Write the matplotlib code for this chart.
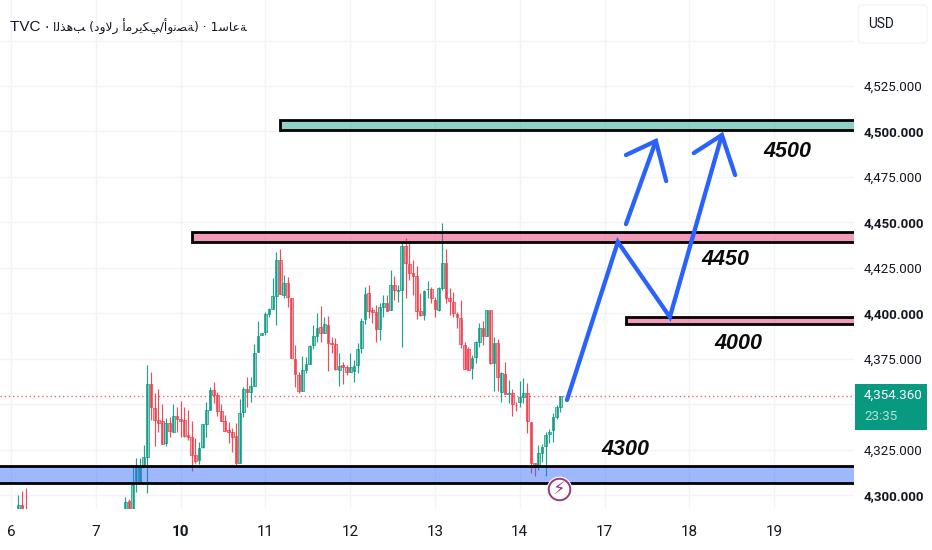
import numpy as np
import matplotlib
matplotlib.use("Agg")
import matplotlib.pyplot as plt
from matplotlib.colors import to_rgba
from matplotlib.patches import Rectangle, FancyBboxPatch
from matplotlib.transforms import ScaledTranslation

# hourly candles, 23 bars a session. index 5-30 sit below the visible range
candle_idx = [2, 3, 4] + list(range(31, 150))

opens = [4290, 4294.4, 4292.5,
    4290, 4296.9, 4290, 4306.5, 4307.4, 4316.5, 4321.1, 4360.9, 4347.7, 4341.3,
    4340.6, 4328.5, 4339.5, 4334.7, 4343.3, 4341.7, 4341.5, 4332.9, 4331.8, 4321.9,
    4319.3, 4326.6, 4339.1, 4346.8, 4357.8, 4354.9, 4346, 4340.7, 4335.6, 4334.5,
    4332.7, 4317.8, 4345.7, 4358.2, 4356.7, 4360.2, 4378.5, 4388, 4389.5, 4399.4,
    4402.3, 4409.5, 4429.3, 4410, 4416.5, 4408.6, 4374.8, 4366, 4357.2, 4368.8,
    4372.1, 4382.5, 4387.7, 4392.3, 4389, 4393.5, 4383.8, 4382.9, 4368.8, 4371.4,
    4370.3, 4367.9, 4368.4, 4371.5, 4380.7, 4396.7, 4411, 4401.8, 4400.9, 4391.2,
    4403.3, 4405.8, 4401.8, 4415.5, 4412.4, 4412.8, 4437.2, 4427.1, 4422, 4420.5,
    4401.1, 4399, 4413.2, 4413.3, 4407.3, 4401.8, 4414.1, 4427.5, 4408.2, 4406.4,
    4399.6, 4397.2, 4382.5, 4380.2, 4369.7, 4375.8, 4384.4, 4391.7, 4387.5, 4401.8,
    4372.8, 4383.5, 4356.9, 4366.6, 4355.6, 4356.3, 4349.7, 4351.4, 4354.1, 4356,
    4340.4, 4317.5, 4316.5, 4323.3, 4327.2, 4333.4, 4335.8, 4343.1, 4348.6]
highs = [4300, 4302.4, 4303.7,
    4298.8, 4297.7, 4316.5, 4320.2, 4320.2, 4327.5, 4371.5, 4367.5, 4356, 4358.2,
    4350.1, 4342.2, 4343.1, 4350.1, 4348.6, 4351.9, 4348.6, 4346.8, 4340.7, 4331.2,
    4329.4, 4339.1, 4351.4, 4359.3, 4362, 4356.9, 4350.1, 4344, 4340.4, 4337.1,
    4339.5, 4352.7, 4359.3, 4365.1, 4365.1, 4382.9, 4395.7, 4389, 4400.9, 4402.7,
    4419.2, 4433.9, 4435.2, 4421, 4420.1, 4408.6, 4382.5, 4367.9, 4376.5, 4376.1,
    4382.5, 4393.5, 4400, 4404, 4398.1, 4398.5, 4386.8, 4386.2, 4378, 4373.4,
    4371.5, 4378, 4374.3, 4383.5, 4397.2, 4414.3, 4415.5, 4403.3, 4404.5, 4405.5,
    4410, 4410, 4423.8, 4420.5, 4415.5, 4439.4, 4441.2, 4439, 4429.3, 4426,
    4411.3, 4412.8, 4417.9, 4414.3, 4408.8, 4414.3, 4449.5, 4435.2, 4413.7, 4411.9,
    4400.9, 4407.3, 4384.4, 4381.3, 4377, 4384.9, 4394.5, 4395.9, 4401.8, 4401.8,
    4386.8, 4385.7, 4367.9, 4373, 4363.3, 4358.2, 4351.4, 4362.9, 4364.2, 4361.5,
    4340.4, 4317.5, 4327.5, 4327.9, 4334.9, 4336.2, 4345, 4349.5, 4354.4]
lows = [4288, 4288, 4286,
    4288, 4288, 4288, 4301.9, 4307.4, 4316.5, 4301, 4341.3, 4327.2, 4334.9,
    4328.1, 4327, 4331.8, 4334.7, 4334.9, 4332.1, 4331.8, 4330.3, 4313.4, 4317.8,
    4317.1, 4325.7, 4331.8, 4346.8, 4350.5, 4343.5, 4340.7, 4335.2, 4328.8, 4323.9,
    4316.4, 4317.8, 4343.1, 4348.6, 4351.4, 4360.2, 4378.5, 4388, 4388, 4398.1,
    4402.3, 4393.5, 4410.6, 4408.2, 4403.3, 4375.2, 4359.6, 4356.3, 4357.2, 4367,
    4372.1, 4380.2, 4384.4, 4384.4, 4389, 4368.4, 4378.3, 4368.8, 4360.2, 4361.1,
    4366, 4367.9, 4362, 4367, 4378, 4394.1, 4397.2, 4394.5, 4384, 4385.3,
    4398.1, 4401.4, 4401.8, 4407.3, 4406.4, 4381.6, 4408.2, 4418.3, 4410, 4396.7,
    4398.5, 4396.3, 4408.2, 4405.5, 4397.8, 4401.2, 4412.8, 4405.8, 4399, 4398.1,
    4391.7, 4380.7, 4369.3, 4368.8, 4363.7, 4372.5, 4381.3, 4382.5, 4387.5, 4372.1,
    4357.4, 4357.4, 4351.4, 4355.6, 4350.5, 4343.7, 4346.4, 4348.6, 4350.5, 4334,
    4312, 4310.7, 4313.8, 4318, 4310.7, 4328.5, 4329.4, 4341.7, 4345.9]
closes = [4294.4, 4290, 4288,
    4296.4, 4290, 4305.5, 4316.5, 4315.6, 4320.8, 4360.9, 4348.3, 4341.3, 4339.8,
    4328.1, 4339.5, 4335.2, 4343.7, 4341.7, 4340.9, 4332.5, 4331.8, 4321.9, 4318.9,
    4325.7, 4339.1, 4346.8, 4357.8, 4355.2, 4346.2, 4340.7, 4335.2, 4334.5, 4332.1,
    4317.5, 4345, 4358.2, 4356.5, 4360, 4378.3, 4387.7, 4389, 4399.6, 4402.2,
    4409.5, 4429.3, 4410.6, 4416.5, 4408.8, 4375.2, 4366.6, 4357.4, 4368.8, 4372.1,
    4382.2, 4387.5, 4392.1, 4389.3, 4394.1, 4383.8, 4383.1, 4369.2, 4371.2, 4370.6,
    4367.5, 4370.6, 4371, 4380.2, 4395.9, 4410.6, 4401.4, 4400.7, 4391.2, 4403.3,
    4405.5, 4401.4, 4415.5, 4412.8, 4412.8, 4437.2, 4427.5, 4422, 4420.7, 4401.4,
    4399, 4412.4, 4413.3, 4408.2, 4402.2, 4413.9, 4427.5, 4408.2, 4406.9, 4400,
    4397.8, 4382.9, 4369.3, 4368.8, 4375.2, 4384, 4391.7, 4387.5, 4401.8, 4372.8,
    4383.5, 4364.8, 4367, 4355.6, 4356.3, 4350.1, 4349.4, 4354.1, 4356.3, 4340.9,
    4317.5, 4315.6, 4323, 4326.6, 4333, 4334.9, 4343.1, 4348.3, 4354.36]

day_labels = ["6", "7", "10", "11", "12", "13", "14", "17", "18", "19"]
price_ticks = [4300, 4325, 4350, 4375, 4400, 4425, 4450, 4475, 4500, 4525, 4550]
last_price = 4354.36

# drawn zones: left edge (bar index), bottom, top
zones = [
    (73, 4500.6, 4506.4, "#089981"),
    (49.1, 4439.3, 4444.7, "#e91e63"),
    (166.9, 4394.2, 4397.9, "#e91e63"),
    (-10, 4306.8, 4315.7, "#2962ff"),
]
path_x = [150.8, 164.6, 178.7, 192.8]
path_y = [4352.3, 4439.2, 4397.9, 4498]
head1_x = [185.2, 192.8, 196.4]
head1_y = [4488.1, 4498, 4476]
arrow2_x = [166.8, 174.9]
arrow2_y = [4449, 4494.7]
head2_x = [166.8, 174.9, 177.7]
head2_y = [4487, 4494.7, 4472.7]
notes = [("4500", 210.5, 4489.2), ("4450", 193.7, 4429.3),
         ("4000", 197.4, 4383.1), ("4300", 166.5, 4324.8)]

W, H = 932, 550
UP, DOWN = "#089981", "#f23645"
AXIS_FONT = ["Roboto", "DejaVu Sans"]
TEXT = "#131722"


def fx(px):
    return px / W


def fy(py):
    return 1 - py / H


fig = plt.figure(figsize=(W / 100, H / 100), dpi=100, facecolor="white")
ax = fig.add_axes([0, fy(509), fx(854), fy(0) - fy(509)])
ax.set_xlim(-11 / 3.687, (854 - 11) / 3.687)
ax.set_ylim(4300 - 14 / 1.818, 4300 + 495 / 1.818)
for s in ax.spines.values():
    s.set_visible(False)

# grid and axis labels
ax.set_xticks(np.arange(len(day_labels)) * 23)
ax.set_xticklabels(day_labels, family=AXIS_FONT, fontsize=11, color=TEXT)
ax.get_xticklabels()[2].set_fontweight("bold")
ax.yaxis.tick_right()
ax.set_yticks(price_ticks)
labels = ["" if p in (4350, 4550) else f"{p:,}.000" for p in price_ticks]
ax.set_yticklabels(labels, family=AXIS_FONT, fontsize=9.6, color=TEXT)
nudge = ScaledTranslation(0, 1.5 / 100, fig.dpi_scale_trans)
for lab, p in zip(ax.get_yticklabels(), price_ticks):
    lab.set_transform(lab.get_transform() + nudge)
    if p in (4300, 4400, 4450, 4500):
        lab.set_fontweight("bold")
ax.tick_params(axis="x", length=0, pad=11.5)
ax.tick_params(axis="y", length=0, pad=7)
ax.grid(True, color="#f3f4f6", lw=1)
ax.set_axisbelow(True)

ax.axhline(last_price, color=DOWN, alpha=0.8, lw=1.0, ls=(0, (1, 2)), zorder=1)

# candles
idx = np.array(candle_idx)
o, h, l, c = map(np.array, (opens, highs, lows, closes))
up = c >= o
cols = [UP if u else DOWN for u in up]
ax.vlines(idx, l, h, colors=cols, lw=0.85, alpha=0.9, zorder=2)
ax.bar(idx, np.abs(c - o), bottom=np.minimum(o, c), width=0.74,
       color=[to_rgba(col, 0.42) for col in cols], edgecolor=cols, lw=0.5, zorder=2.5)

# zones sit on top of the candles
for left, lo, hi, col in zones:
    ax.add_patch(Rectangle((left, lo), 300, hi - lo, facecolor=to_rgba(col, 0.45),
                           edgecolor="black", lw=2, zorder=3))

blue = "#2962ff"
for xs, ys in [(path_x, path_y), (head1_x, head1_y), (arrow2_x, arrow2_y), (head2_x, head2_y)]:
    ax.plot(xs, ys, color=blue, lw=3.1, solid_capstyle="round", solid_joinstyle="miter", zorder=4)

for txt, x, y in notes:
    ax.text(x, y, txt, family=["Liberation Sans", "DejaVu Sans"], fontsize=15.5, fontweight="bold",
            fontstyle="italic", color="#0b0b0b", ha="center", va="center", zorder=5)

# lightning badge
ax.plot([148.7], [4303.1], marker="o", ms=17.5, mfc="white", mec="white", mew=1, zorder=6)
ax.plot([148.7], [4303.1], marker="o", ms=15.5, mfc="white", mec="#9c3a72", mew=1.4, zorder=6.1)
ax.text(148.7, 4303, "\u26a1", family="DejaVu Sans", fontsize=13, color="#9c3a72",
        ha="center", va="center", zorder=6.2)

# header: letters shaped but left in reading order, as the source chart shows them
gold = "\ufe8d\ufedf\ufeac\ufeeb\ufe90"
dollar = "\ufea9\ufeed\ufefb\ufead"
american = "\ufe83\ufee3\ufeae\ufef3\ufedc\ufef2"
ounce = "\ufe83\ufeed\ufee7\ufebc\ufe94"
hour = "\ufeb3\ufe8e\ufecb\ufe94"
fig.text(fx(10), fy(27), "TVC \u00b7", family=["Liberation Sans", "DejaVu Sans"], fontsize=11,
         color=TEXT, ha="left", va="center")
fig.text(fx(53), fy(27), f"{gold} ({dollar} {american}/{ounce}) \u00b7 1{hour}",
         family=["DejaVu Sans"], fontsize=8.9, color=TEXT, ha="left", va="center")

# price axis furniture
fig.add_artist(FancyBboxPatch((fx(858), fy(43)), fx(69), fy(5) - fy(43),
                              boxstyle="round,pad=0,rounding_size=0.006", transform=fig.transFigure,
                              facecolor="white", edgecolor="#f0f1f3", lw=0.8))
fig.text(fx(868), fy(24), "USD", family=AXIS_FONT, fontsize=9.8, color=TEXT, ha="left", va="center")
fig.add_artist(Rectangle((fx(855), fy(430)), fx(71.5), fy(384) - fy(430), transform=fig.transFigure,
                         facecolor=UP, edgecolor="none"))
fig.text(fx(864), fy(395), f"{last_price:,.3f}", family=AXIS_FONT, fontsize=9.6, color="white",
         ha="left", va="center")
fig.text(fx(864), fy(416), "23:35", family=AXIS_FONT, fontsize=9.6, color="#b5e2d9", ha="left", va="center")

fig.savefig("out.png", dpi=100, facecolor="white")
